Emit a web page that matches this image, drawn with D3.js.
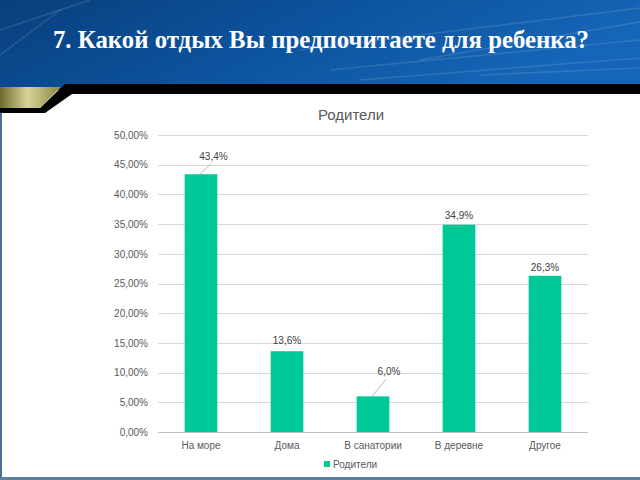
<!DOCTYPE html>
<html><head><meta charset="utf-8">
<script src="https://cdn.jsdelivr.net/npm/d3@7"></script>
<style>html,body{margin:0;padding:0;background:#fff;overflow:hidden}</style>
</head><body>
<svg id="c" width="640" height="480"></svg>
<script>
const pageTitle = "7. Какой отдых Вы предпочитаете для ребенка?";
const chartTitle = "Родители";
const seriesName = "Родители";
const categories = ["На море", "Дома", "В санатории", "В деревне", "Другое"];
const values = [43.4, 13.6, 6.0, 34.9, 26.3];
const valueLabels = ["43,4%", "13,6%", "6,0%", "34,9%", "26,3%"];
const yTicks = [0, 5, 10, 15, 20, 25, 30, 35, 40, 45, 50];

const svg = d3.select("#c");
const defs = svg.append("defs");
const g1 = defs.append("linearGradient").attr("id","hdr").attr("x1","0").attr("y1","0").attr("x2","1").attr("y2","0.3");
g1.append("stop").attr("offset","0").attr("stop-color","#093f7c");
g1.append("stop").attr("offset","0.5").attr("stop-color","#0c529c");
g1.append("stop").attr("offset","1").attr("stop-color","#1566b8");
const g2 = defs.append("linearGradient").attr("id","gold").attr("x1","0").attr("y1","0").attr("x2","1").attr("y2","0");
g2.append("stop").attr("offset","0").attr("stop-color","#6e6a2c");
g2.append("stop").attr("offset","0.45").attr("stop-color","#d8d29a");
g2.append("stop").attr("offset","1").attr("stop-color","#8c8640");

svg.append("rect").attr("x",0).attr("y",0).attr("width",640).attr("height",90).attr("fill","url(#hdr)");
const streaks = [[330,70,640,40],[360,80,640,58],[420,60,640,22],[300,50,640,8],[480,75,640,68],[0,30,90,0],[0,55,60,10]];
svg.append("g").selectAll("line").data(streaks).join("line")
  .attr("x1",d=>d[0]).attr("y1",d=>d[1]).attr("x2",d=>d[2]).attr("y2",d=>d[3])
  .attr("stroke","#ffffff").attr("stroke-opacity",0.12).attr("stroke-width",1.5);
svg.append("path").attr("d","M72,94 L640,94 L640,480 L0,480 L0,113 L45,113 Z").attr("fill","#ffffff");
svg.append("path").attr("d","M65,84 L640,84 L640,94 L72,94 L45,113 L0,113 L0,108 L40,108 Z").attr("fill","#000000");
svg.append("path").attr("d","M0,87 L61,87 L40,108 L0,108 Z").attr("fill","url(#gold)");
svg.append("rect").attr("x",0).attr("y",113).attr("width",2).attr("height",367).attr("fill","#4a6f95");
svg.append("rect").attr("x",0).attr("y",477).attr("width",640).attr("height",3).attr("fill","#5b7fa3");

svg.append("text").attr("x",321).attr("y",48).attr("text-anchor","middle")
  .attr("font-family","'Liberation Serif','Times New Roman',serif").attr("font-weight","bold")
  .attr("font-size",24.8).attr("fill","#ffffff").text(pageTitle);

const m = {l:158, r:588, t:135, b:432};
const x = d3.scaleBand().domain(categories).range([m.l, m.r]).paddingInner(0.62).paddingOuter(0.31);
const y = d3.scaleLinear().domain([0,50]).range([m.b, m.t]);
const fmt = v => d3.format(".2f")(v).replace(".",",") + "%";
const font = "'Liberation Sans', Arial, sans-serif";

svg.append("g").selectAll("line").data(yTicks).join("line")
  .attr("x1",m.l).attr("x2",m.r).attr("y1",d=>Math.round(y(d))+0.5).attr("y2",d=>Math.round(y(d))+0.5)
  .attr("stroke",d=>d===0?"#bfbfbf":"#d9d9d9").attr("stroke-width",1);

const yAxis = svg.append("g").attr("transform",`translate(${m.l},0)`)
  .call(d3.axisLeft(y).tickValues(yTicks).tickFormat(fmt).tickSize(0).tickPadding(10));
yAxis.select(".domain").remove();
yAxis.selectAll("text").attr("font-family",font).attr("font-size",10).attr("fill","#595959");

const xAxis = svg.append("g").attr("transform",`translate(0,${m.b})`)
  .call(d3.axisBottom(x).tickSize(0).tickPadding(10));
xAxis.select(".domain").remove();
xAxis.selectAll("text").attr("font-family",font).attr("font-size",10).attr("fill","#595959");

svg.append("g").selectAll("rect").data(values).join("rect")
  .attr("x",(d,i)=>x(categories[i])).attr("width",x.bandwidth())
  .attr("y",d=>y(d)).attr("height",d=>y(0)-y(d)).attr("fill","#00c896");

const offs = [[12.5,-14,true],[0,-7,false],[16,-21,true],[0,-6,false],[0,-5,false]];
const lbl = svg.append("g");
values.forEach((v,i)=>{
  const cx = x(categories[i]) + x.bandwidth()/2;
  const o = offs[i];
  if (o[2]) {
    lbl.append("line").attr("x1",cx-1).attr("y1",y(v)).attr("x2",cx+o[0]-3).attr("y2",y(v)+o[1]+4)
      .attr("stroke","#a6a6a6").attr("stroke-width",0.8);
  }
  lbl.append("text").attr("x",cx+o[0]).attr("y",y(v)+o[1]).attr("text-anchor","middle")
    .attr("font-family",font).attr("font-size",10).attr("fill","#404040").text(valueLabels[i]);
});

svg.append("text").attr("x",351).attr("y",120).attr("text-anchor","middle")
  .attr("font-family",font).attr("font-size",15).attr("fill","#595959").text(chartTitle);

svg.append("rect").attr("x",324).attr("y",461).attr("width",6).attr("height",6).attr("fill","#00c896");
svg.append("text").attr("x",333).attr("y",468).attr("font-family",font).attr("font-size",10)
  .attr("fill","#595959").text(seriesName);
</script>
</body></html>
